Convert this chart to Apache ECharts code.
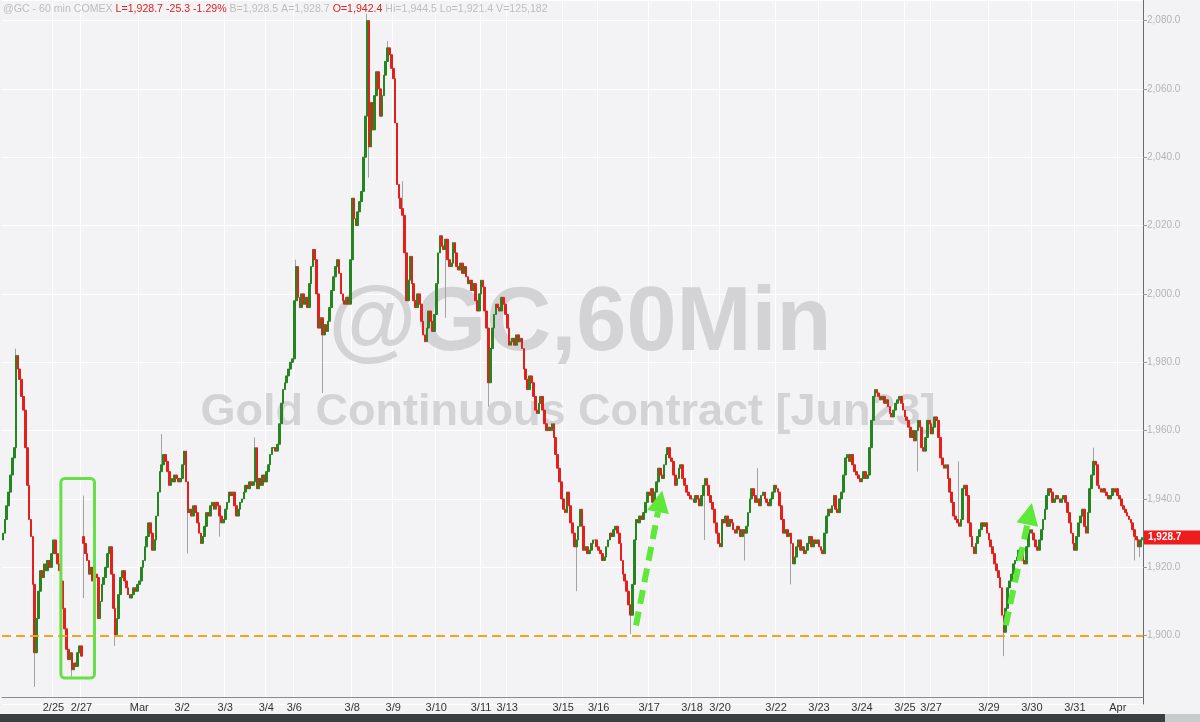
<!DOCTYPE html>
<html><head><meta charset="utf-8">
<script src="https://cdn.jsdelivr.net/npm/echarts@6/dist/echarts.min.js"></script>
<style>html,body{margin:0;padding:0;background:#f3f3f5}#c{width:1200px;height:722px}</style>
</head><body><div id="c"></div>
<script>
// Hourly closes (GC 60 min)
const closes = [
1930,1934,1938,1942,1947,1952,1955,1982,
1978,1975,1970,1966,1955,1944,1934,1929,1915,1895,
1905,1913,1919,1917,1921,1919,1922,1920,1924,1928,1924,
1921,1919,1916,1908,1902,
1896,1893,1895,1890,1892,1891,1895,1897,1894,
1927,1924,1922,1918,1920,1916,1918,1917,
1905,1910,1915,1917,1920,1924,1926,1918,1908,1900,
1905,1912,1917,1919,1916,1914,1912,1911,1912,1914,1913,1915,1916,1920,1922,1926,1929,1933,1930,1925,
1928,1935,1942,1948,1950,1953,1951,
1948,1944,1946,1945,1947,1946,1945,1946,
1950,1954,1945,1936,1937,1935,1938,1936,1933,1930,1927,1929,
1932,1936,1935,1938,1939,1937,1939,1938,1935,1933,1934,1937,1939,1942,1941,1942,
1938,1935,1937,1939,1940,1942,1944,1943,1945,1944,1945,1955,1943,
1946,1944,1947,1945,1948,1950,1953,1955,
1955,1954,1956,1962,1968,1972,1974,1976,1978,1980,1981,
1998,2008,1999,1996,
2000,1997,1999,1996,
2003,2008,2013,2010,2000,1990,
1993,1988,1991,1989,1992,
1996,2001,2005,2008,2010,
2006,2000,1998,1997,1999,1997,
2010,2028,2022,2020,2024,2027,2030,2040,2052,
2080,2043,2056,2048,
2058,2065,2060,2052,2058,2064,2068,2072,2070,2066,2063,2050,2032,
2028,2025,2023,2012,1998,2004,2011,2003,
1998,1996,2000,1997,1992,1988,1986,1990,1995,1992,1989,1994,2003,2012,2017,2014,
2013,2016,2010,2008,2009,2015,2012,2008,2007,2009,2006,2008,2005,
2003,2004,2001,2003,1998,1995,2000,2004,2002,1995,1990,
1974,1984,1990,1994,1997,1996,1995,1999,1997,1994,
1990,1985,1986,1987,1985,1988,1986,1987,1984,1978,
1975,1972,1976,1974,1970,1966,1965,1968,1970,
1966,1962,1960,1961,1960,1962,1958,1953,1949,1945,1940,1937,1936,
1942,1938,1933,1930,1926,1928,1932,1937,1932,1925,1926,1924,1925,1927,1928,
1928,1926,1925,1924,1922,1923,1926,1928,1930,1929,1931,1932,1930,1927,1922,1918,1916,1913,1909,1906,
1915,1928,1934,1933,1935,1934,1936,
1939,1942,1941,1943,1939,1942,1945,1949,1947,1946,1950,1953,1955,
1952,1951,1947,1944,1946,1949,1950,1946,1944,1942,1941,1940,
1940,1939,1941,1940,1938,1941,1944,1946,1944,1941,1939,1937,
1933,1930,1927,1926,1934,
1933,1935,1932,1934,1933,1931,1930,1932,1931,1929,1931,1930,1932,
1936,1940,1943,1941,1939,1940,1938,1941,1942,1940,1939,1938,
1940,1942,1944,1943,1942,1938,1934,1930,1931,1929,1930,1927,1921,1923,1926,1928,
1925,1926,1924,1925,1927,1929,1926,1928,1927,1928,1926,1925,1924,
1930,1935,1937,1936,1938,1941,1937,1936,1940,1942,1947,1952,
1953,1951,1953,1950,1948,1947,1946,1945,1946,1948,1946,1947,
1955,1963,1970,1972,1971,1970,1969,
1970,1968,1969,1967,1965,1964,1966,1968,1969,1970,
1968,1966,1964,1963,1961,1958,1960,1957,1960,1963,1961,1955,1954,1958,1963,1962,1959,1961,1964,1963,1958,1952,
1950,1949,1950,1946,1942,1939,1935,1934,1933,1932,1934,
1943,1944,1941,1933,1929,1926,1924,
1927,1929,1931,1933,1932,1933,1930,1928,1926,1924,1921,1919,1917,
1914,1906,1901,
1908,1914,1916,1918,1921,1922,1923,1925,1924,1922,1921,1926,1930,
1931,1930,1928,1926,1925,1928,1931,1934,1937,1941,1943,
1942,1939,1940,1941,1940,1939,1940,1941,1939,1936,1933,
1930,1927,1925,1929,1933,1935,1937,1932,1930,1936,1943,
1947,1951,1950,1944,1943,1942,1943,1942,1941,1940,1941,
1943,1942,1943,1941,1940,1938,1937,1936,1935,1934,1933,1931,1929,1928,1926,1928,1928.7
];
const firstOpen = 1928;
// session-gap opens: [bar, open]
const gapOpens = [[43, 1929]];
// notable wick extremes: [bar, price]
const wickHighs = [[7,1984],[43,1941],[85,1959],[135,1958],[157,2010],[195,2082],[206,2074],[214,2033],[404,1949],[512,1951],[584,1955]];
const wickLows = [[17,1885],[37,1888],[43,1911],[60,1897],[99,1924],[116,1929],[171,1971],[196,2034],[215,2016],[237,1993],[260,1967],[307,1913],[336,1900.5],[376,1928],[397,1922],[422,1915],[490,1948],[536,1894],[606,1922],[609,1923]];
// date labels and the bar where each starts
const tickLabels = ['2/25','2/27','Mar','3/2','3/3','3/4','3/6','3/8','3/9','3/10','3/11','3/13','3/15','3/16','3/17','3/18','3/20','3/22','3/23','3/24','3/25','3/27','3/29','3/30','3/31','Apr'];
const tickBars = [27,42,73,96,119,141,156,187,209,232,256,270,300,319,346,369,384,414,437,460,483,497,528,551,574,597];
const lastPrice = 1928.7;
const refLevel = 1900;
const headerParts = [['g','@GC - 60 min COMEX '],['r','L=1,928.7 -25.3 -1.29% '],['g','B=1,928.5 A=1,928.7 '],['r','O=1,942.4 '],['g','Hi=1,944.5 Lo=1,921.4 V=125,182']];

const n = closes.length;
const opens = closes.map((c, i) => i === 0 ? firstOpen : closes[i - 1]);
gapOpens.forEach(([i, o]) => { opens[i] = o; });
const highs = closes.map((c, i) => Math.max(c, opens[i]));
const lows = closes.map((c, i) => Math.min(c, opens[i]));
wickHighs.forEach(([i, v]) => { highs[i] = Math.max(highs[i], v); });
wickLows.forEach(([i, v]) => { lows[i] = Math.min(lows[i], v); });
const wickData = closes.map((c, i) => [opens[i], c, lows[i], highs[i]]);
const bodyData = closes.map((c, i) => [opens[i], c, Math.min(c, opens[i]), Math.max(c, opens[i])]);
const cats = closes.map((_, i) => { const k = tickBars.indexOf(i); return k >= 0 ? tickLabels[k] : ''; });

const FONT = 'Liberation Sans, Arial, sans-serif';
const fmt = v => v.toLocaleString('en-US', {minimumFractionDigits: 1, maximumFractionDigits: 1});
const chart = echarts.init(document.getElementById('c'));
chart.setOption({
  animation: false,
  backgroundColor: '#f3f3f5',
  grid: {left: 0, right: 57, top: 0, bottom: 18},
  xAxis: {
    type: 'category', data: cats, boundaryGap: true, offset: -7,
    axisLine: {lineStyle: {color: '#8a8a8a'}},
    axisTick: {alignWithLabel: true, interval: (i, v) => v !== '', length: 5, lineStyle: {color: '#777'}},
    axisLabel: {interval: 0, color: '#333', fontSize: 11, fontFamily: FONT, margin: 5},
    splitLine: {show: true, interval: (i, v) => v !== '', lineStyle: {color: '#ffffff', width: 1}}
  },
  yAxis: {
    type: 'value', position: 'right', min: 1880, max: 2086, interval: 20, scale: true,
    axisLine: {show: true, lineStyle: {color: '#6a6a6a'}},
    axisTick: {show: true, length: 4, lineStyle: {color: '#999'}},
    axisLabel: {color: '#b4b4b4', fontSize: 10, fontFamily: FONT, margin: 4, showMinLabel: false, showMaxLabel: false, formatter: fmt},
    splitLine: {show: true, lineStyle: {color: '#ffffff', width: 1}}
  },
  series: [
    {type: 'candlestick', name: 'wick', large: false, data: wickData, barWidth: 1, z: 2, silent: true,
      itemStyle: {color: '#9c9c9c', color0: '#9c9c9c', borderColor: '#a3a3a3', borderColor0: '#a3a3a3', borderWidth: 1}},
    {type: 'candlestick', name: 'GC', large: false, data: bodyData, barWidth: 2.2, z: 3, silent: true,
      itemStyle: {color: '#23861f', color0: '#e3201c', borderColor: '#23861f', borderColor0: '#e3201c', borderWidth: 1}},
    {type: 'line', data: [], markLine: {silent: true, symbol: 'none', label: {show: false},
        lineStyle: {color: '#f5a21f', type: [9, 5], width: 2}, data: [{yAxis: refLevel}]}, z: 4}
  ],
  graphic: [
    {type: 'text', z: 1, x: 580, y: 325, silent: true, style: {text: '@GC,60Min', fill: '#d3d3d5', font: 'bold 90px ' + FONT, textAlign: 'center', textVerticalAlign: 'middle'}},
    {type: 'text', z: 1, x: 568, y: 413, silent: true, style: {text: 'Gold Continuous Contract [Jun23]', fill: '#d3d3d5', font: 'bold 45px ' + FONT, textAlign: 'center', textVerticalAlign: 'middle'}}
  ]
});

// annotations anchored to data coordinates
const P = (i, v) => chart.convertToPixel({gridIndex: 0}, [i, v]);
function arrow(i0, v0, i1, v1) {
  const a = P(i0, v0), b = P(i1, v1);
  const dx = b[0] - a[0], dy = b[1] - a[1], L = Math.hypot(dx, dy);
  const ux = dx / L, uy = dy / L, px = -uy, py = ux, head = 22, hw = 11;
  const base = [b[0] - ux * head, b[1] - uy * head];
  return [
    {type: 'polyline', z: 20, silent: true, shape: {points: [a, base]}, style: {stroke: '#5de83a', lineWidth: 6, lineDash: [14, 8], fill: null}},
    {type: 'polygon', z: 20, silent: true, shape: {points: [b, [base[0] + px * hw, base[1] + py * hw], [base[0] - px * hw, base[1] - py * hw]]}, style: {fill: '#5de83a'}}
  ];
}
const bx0 = P(31, 1946), bx1 = P(49, 1887.6);
const tagY = P(n - 1, lastPrice)[1];
const extra = [
  {type: 'rect', z: 20, silent: true, shape: {x: bx0[0], y: bx0[1], width: bx1[0] - bx0[0], height: bx1[1] - bx0[1], r: 4}, style: {stroke: '#66e046', lineWidth: 3, fill: null}},
  ...arrow(339, 1903, 353, 1942.5),
  ...arrow(537, 1903, 551, 1938.8),
  {type: 'rect', z: 20, silent: true, shape: {x: 1144, y: tagY - 7, width: 56, height: 14}, style: {fill: '#ee1c1c'}},
  {type: 'text', z: 21, silent: true, x: 1148, y: tagY, style: {text: fmt(lastPrice), fill: '#fff', font: 'bold 10px ' + FONT, textVerticalAlign: 'middle'}},
  {type: 'text', z: 21, silent: true, x: 3, y: 9, style: {
    text: headerParts.map(([k, t]) => '{' + k + '|' + t + '}').join(''), textVerticalAlign: 'middle',
    rich: {g: {fill: '#bdbdbd', font: '10.6px ' + FONT}, r: {fill: '#dd1f1f', font: '10.6px ' + FONT}}}},
  {type: 'rect', z: 21, silent: true, shape: {x: 0, y: 714, width: 1165, height: 8}, style: {fill: '#3b3e42'}},
  {type: 'rect', z: 21, silent: true, shape: {x: 1165, y: 714, width: 35, height: 8}, style: {fill: '#c9cacc'}}
];
chart.setOption({graphic: extra.map((e, k) => Object.assign({id: 'a' + k}, e))});
</script>
</body></html>
